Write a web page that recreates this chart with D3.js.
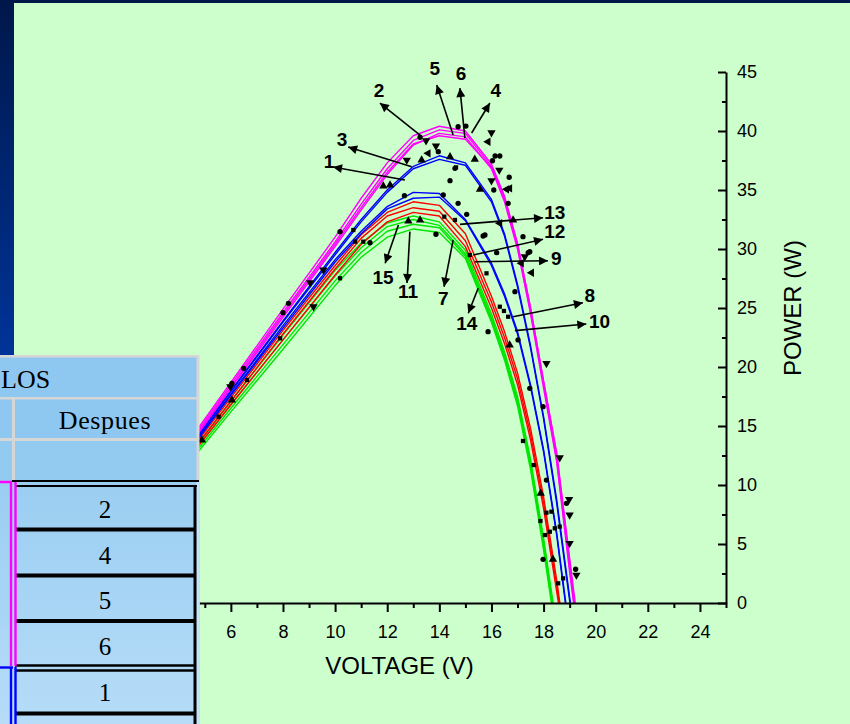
<!DOCTYPE html>
<html><head><meta charset="utf-8">
<script src="https://cdn.jsdelivr.net/npm/d3@7"></script>
<style>html,body{margin:0;padding:0;overflow:hidden;background:#CCFFCC}</style>
</head><body><svg id="c" width="850" height="724"></svg>
<script>
// ---------- DATA ----------
const voltage = [0,2,4,6,8,10,11,12,13,14,15,16,16.5,17,17.5,18,18.5,19,19.5];
const seriesLabels = ["2","5","4","6","3","1","8","10","13","12","9","7","15","14","11"];
const seriesGroup  = ["m","m","m","m","b","b","b","b","r","r","r","g","g","g","g"];
const powerM1 = [0,6.24,12.5,18.7,24.9,31.0,34.3,37.3,39.6,40.4,40.0,37.2,34.5,30.5,25.0,18.8,12.6,3.5,-6];
const powerM2 = [0,6.15,12.3,18.5,24.6,30.6,33.8,36.8,39.2,40.1,39.8,37.0,34.2,30.2,24.7,18.5,12.2,3.0,-6];
const powerM3 = [0,6.1,12.1,18.2,24.2,30.2,33.3,36.3,38.8,39.8,39.5,36.8,34.0,30.0,24.5,18.2,12.0,2.6,-6];
const powerM4 = [0,6.1,12.2,18.3,24.4,30.4,33.5,36.5,38.9,39.6,39.3,36.9,34.3,30.4,25.0,18.8,12.8,3.8,-5];
const powerB1 = [0,6.0,12.0,18.0,23.9,29.7,32.5,35.0,37.0,37.9,37.3,34.2,31.3,27.0,21.8,15.8,8.8,0.5,-8];
const powerB2 = [0,5.95,11.9,17.9,23.8,29.5,32.3,34.8,36.8,37.6,37.1,34.0,31.1,26.8,21.6,15.6,8.5,0.2,-8];
const powerB3 = [0,5.9,11.8,17.7,23.5,29.1,31.5,33.6,34.8,34.7,32.5,28.8,26.2,23.0,18.5,13.0,6.0,-2.5];
const powerB4 = [0,5.85,11.7,17.6,23.3,28.9,31.3,33.4,34.3,34.4,32.4,28.6,26.0,22.8,18.3,12.8,5.8,-2.8];
const powerR1 = [0,5.8,11.6,17.4,23.1,28.6,31.2,33.1,34.0,33.7,31.3,26.0,23.0,19.5,14.8,9.0,2.0,-6];
const powerR2 = [0,5.7,11.4,17.1,22.8,28.3,30.9,32.8,33.5,33.2,30.7,25.5,22.5,19.0,14.3,8.5,1.5,-6];
const powerR3 = [0,5.6,11.2,16.8,22.3,27.8,30.4,32.3,33.1,32.8,30.2,25.0,22.0,18.5,13.8,8.0,1.0,-6];
const powerG1 = [0,5.7,11.4,17.1,22.7,28.2,30.5,32.2,32.8,32.3,29.9,24.5,21.3,17.5,12.2,5.5,-2];
const powerG2 = [0,5.6,11.2,16.8,22.3,27.7,30.1,31.9,32.5,32.0,29.6,24.2,21.0,17.2,11.9,5.2,-2.3];
const powerG3 = [0,5.5,11.0,16.5,21.9,27.3,29.7,31.5,32.1,31.8,29.4,24.0,20.8,17.0,11.6,4.8,-2.6];
const powerG4 = [0,5.4,10.8,16.2,21.5,26.9,29.3,31.0,31.7,31.4,29.2,23.8,20.6,16.7,11.3,4.5,-3];
const allPower = [powerM1,powerM2,powerM3,powerM4,powerB1,powerB2,powerB3,powerB4,powerR1,powerR2,powerR3,powerG1,powerG2,powerG3,powerG4];

// measured points [V, P]
const circlePts = [[13.26,39.47],[14.72,40.36],[15.02,40.42],[13.96,38.25],[16.14,37.88],[16.04,37.48],[16.68,36.08],[16.09,35.0],[14.41,35.79],[12.66,34.52],[14.15,34.58],[15.68,31.1],[14.6,36.84],[14.72,33.87],[15.05,32.94],[16.32,37.88],[16.64,33.87],[17.21,31.04],[17.47,29.77],[10.19,31.47],[11.34,30.53],[13.87,31.25],[17.41,29.69],[16.9,26.38],[15.75,31.19],[16.2,29.69],[15.87,22.99],[17.02,22.29],[17.47,18.19],[17.98,16.64],[18.11,10.42],[18.88,8.45],[17.98,3.7],[19.23,2.86],[8.21,25.4],[8.0,24.6],[6.49,19.89],[6.04,18.62]];
const triDownPts = [[13.49,39.18],[16.0,39.86],[13.87,38.73],[12.75,37.54],[16.3,36.69],[18.11,20.31],[18.98,8.79],[19.26,2.37],[18.62,12.31],[9.04,27.14],[9.55,28.22],[9.17,25.11],[5.98,18.33],[16.0,35.79],[17.28,29.35],[19.0,7.46],[19.0,5.06]];
const triUpPts = [[14.41,37.82],[15.36,37.6],[15.56,35.06],[16.83,32.46],[13.32,37.54],[11.85,35.34],[12.11,35.42],[13.26,32.46],[12.81,32.37],[16.7,21.86],[17.89,9.3],[18.36,3.7],[4.89,13.81],[6.04,17.2]];
const triLeftPts = [[15.87,39.09],[13.57,38.11],[16.58,35.06],[17.54,27.99],[16.7,35.14],[16.32,32.18],[17.15,28.79]];
const squarePts = [[14.64,36.92],[14.19,32.74],[14.6,32.46],[10.19,27.52],[15.17,29.49],[15.81,27.94],[16.32,25.11],[16.64,24.26],[16.48,24.75],[17.21,13.73],[17.62,11.69],[18.3,7.74],[18.11,7.65],[18.24,6.04],[18.62,6.47],[18.43,6.33],[18.05,5.76],[18.56,1.67],[18.75,2.09],[17.88,6.95],[10.7,31.61],[10.77,30.62],[11.08,30.62],[7.89,22.43],[6.62,18.9],[5.53,15.79]];

// annotations: label, label pos [V,P], arrow tail [V,P], arrow head [V,P]
const annText = ["5","6","4","2","3","1","13","12","9","8","10","7","14","15","11"];
const annLabelPos = [[13.83,45.34],[14.83,44.9],[16.17,43.47],[11.69,43.47],[10.27,39.32],[9.77,37.46],[18.43,33.16],[18.43,31.47],[18.49,29.21],[19.77,26.1],[20.15,23.9],[14.15,25.82],[15.05,23.7],[11.84,27.63],[12.8,26.44]];
const annTail = [[14.53,39.66],[14.98,39.4],[15.24,39.83],[13.26,39.66],[12.94,36.97],[12.68,35.85],[14.79,32.09],[15.3,29.49],[15.36,28.92],[16.83,24.26],[16.9,23.08],[14.53,30.76],[15.49,26.67],[12.43,32.03],[12.87,31.47]];
const annHead = [[13.9,43.9],[14.79,43.64],[15.94,42.37],[11.72,42.37],[10.5,38.64],[9.92,36.95],[17.98,32.65],[17.98,30.82],[18.17,29.0],[19.51,25.45],[19.64,23.64],[14.18,26.8],[15.11,24.55],[11.92,28.79],[12.76,27.12]];

const xTicks = [0,2,4,6,8,10,12,14,16,18,20,22,24];
const xMinor = [1,3,5,7,9,11,13,15,17,19,21,23,25];
const yTicks = [0,5,10,15,20,25,30,35,40,45];
const yMinor = [2.5,7.5,12.5,17.5,22.5,27.5,32.5,37.5,42.5];
const tableHeader = "LOS";
const tableSub = "Despues";
const tableRows = ["2","4","5","6","1"];

// ---------- DRAW ----------
const svg = d3.select("#c");
const groupColor = {m:"#FF00FF", b:"#0000FF", r:"#FF0000", g:"#00E600"};
const defs = svg.append("defs");
const bg = defs.append("linearGradient").attr("id","bgGrad").attr("x1",0).attr("y1",0).attr("x2",0).attr("y2",1);
bg.append("stop").attr("offset","0%").attr("stop-color","#00174A");
bg.append("stop").attr("offset","50%").attr("stop-color","#00349A");
bg.append("stop").attr("offset","100%").attr("stop-color","#0038A8");
const tg = defs.append("linearGradient").attr("id","tblGrad").attr("x1",0).attr("y1",0).attr("x2",0).attr("y2",1);
tg.append("stop").attr("offset","0%").attr("stop-color","#9ACEF2");
tg.append("stop").attr("offset","100%").attr("stop-color","#B6DCF7");
defs.append("clipPath").attr("id","plotClip").append("rect").attr("x",0).attr("y",0).attr("width",726).attr("height",603);
defs.append("marker").attr("id","arr").attr("viewBox","0 0 10 10").attr("refX",10).attr("refY",5)
  .attr("markerUnits","userSpaceOnUse").attr("markerWidth",14).attr("markerHeight",9).attr("orient","auto")
  .append("path").attr("d","M0,0 L10,5 L0,10 z").attr("fill","#000");

svg.append("rect").attr("x",0).attr("y",0).attr("width",850).attr("height",724).attr("fill","url(#bgGrad)");
svg.append("rect").attr("x",14).attr("y",3).attr("width",836).attr("height",721).attr("fill","#CCFFCC");

const x = d3.scaleLinear().domain([0,25]).range([74.5,726]);
const y = d3.scaleLinear().domain([0,45]).range([603,72]);

// curves
const line = d3.line().x(d=>x(d[0])).y(d=>y(d[1]));
const curves = svg.append("g").attr("clip-path","url(#plotClip)");
const order = [11,12,13,14,8,9,10,6,7,4,5,0,1,2,3];
order.forEach(i=>{
  const pts = allPower[i].map((p,k)=>[voltage[k],p]);
  curves.append("path").attr("d",line(pts)).attr("fill","none")
    .attr("stroke",groupColor[seriesGroup[i]]).attr("stroke-width",1.4).attr("stroke-linejoin","round");
});

// markers
const mk = svg.append("g").attr("fill","#000");
function drawSym(pts, type, size, rot){
  mk.selectAll(null).data(pts).enter().append("path")
    .attr("d", d3.symbol().type(type).size(size))
    .attr("transform", d=>`translate(${x(d[0])},${y(d[1])}) rotate(${rot})`);
}
drawSym(circlePts, d3.symbolCircle, 22, 0);
drawSym(triDownPts, d3.symbolTriangle, 30, 180);
drawSym(triUpPts, d3.symbolTriangle, 30, 0);
drawSym(triLeftPts, d3.symbolTriangle, 30, -90);
drawSym(squarePts, d3.symbolSquare, 18, 0);

// axes
svg.append("g").attr("transform","translate(0,603)")
  .call(d3.axisBottom(x).tickValues(xTicks).tickSize(9).tickSizeOuter(0).tickPadding(13).tickFormat(d3.format("d")));
svg.append("g").attr("transform","translate(0,603)")
  .call(d3.axisBottom(x).tickValues(xMinor).tickSize(5).tickFormat("")).select(".domain").remove();
svg.append("g").attr("transform","translate(726,0)")
  .call(d3.axisRight(y).tickValues(yTicks).tickSize(-8).tickSizeOuter(0).tickPadding(11));
svg.append("g").attr("transform","translate(726,0)")
  .call(d3.axisRight(y).tickValues(yMinor).tickSize(-4).tickFormat("")).select(".domain").remove();
svg.selectAll(".domain").attr("stroke","#000").attr("stroke-width",2);
svg.selectAll(".tick line").attr("stroke","#000").attr("stroke-width",2);
svg.selectAll(".tick text").attr("fill","#000").style("font-family","'Liberation Sans',Arial,sans-serif").style("font-size","18px");

svg.append("text").attr("x",399.5).attr("y",674).attr("text-anchor","middle")
  .style("font-family","'Liberation Sans',Arial,sans-serif").style("font-size","24px").attr("fill","#000").text("VOLTAGE (V)");
svg.append("text").attr("transform","translate(801,308) rotate(-90)").attr("text-anchor","middle")
  .style("font-family","'Liberation Sans',Arial,sans-serif").style("font-size","24px").attr("fill","#000").text("POWER (W)");

// annotations
const ann = svg.append("g");
annText.forEach((t,i)=>{
  ann.append("line").attr("x1",x(annTail[i][0])).attr("y1",y(annTail[i][1]))
    .attr("x2",x(annHead[i][0])).attr("y2",y(annHead[i][1]))
    .attr("stroke","#000").attr("stroke-width",1.6).attr("marker-end","url(#arr)");
  ann.append("text").attr("x",x(annLabelPos[i][0])).attr("y",y(annLabelPos[i][1]))
    .attr("text-anchor","middle").attr("dy","0.36em")
    .style("font-family","'Liberation Sans',Arial,sans-serif").style("font-weight","bold").style("font-size","19px")
    .attr("fill","#000").text(t);
});

// ---------- TABLE (overlay) ----------
const tb = svg.append("g");
const serif = "'Liberation Serif','Times New Roman',serif";
tb.append("rect").attr("x",0).attr("y",355).attr("width",199.5).attr("height",369).attr("fill","#D6D6D6");
tb.append("rect").attr("x",0).attr("y",357.5).attr("width",196.5).attr("height",39.5).attr("fill","#8EC8F0");
tb.append("rect").attr("x",0).attr("y",399.5).attr("width",12).attr("height",38.5).attr("fill","#8EC8F0");
tb.append("rect").attr("x",15).attr("y",399.5).attr("width",181.5).attr("height",38.5).attr("fill","#8EC8F0");
tb.append("rect").attr("x",0).attr("y",441).attr("width",12).attr("height",39).attr("fill","#92CAF0");
tb.append("rect").attr("x",15).attr("y",441).attr("width",181.5).attr("height",39).attr("fill","#92CAF0");
tb.append("rect").attr("x",0).attr("y",480).attr("width",199.5).attr("height",244).attr("fill","url(#tblGrad)");
tb.append("rect").attr("x",196.5).attr("y",480).attr("width",3).attr("height",244).attr("fill","#C6E3F8");
// black grid
tb.append("line").attr("x1",12).attr("x2",199).attr("y1",481).attr("y2",481).attr("stroke","#000").attr("stroke-width",2.2);
tb.append("line").attr("x1",15).attr("x2",197).attr("y1",486).attr("y2",486).attr("stroke","#000").attr("stroke-width",2.2);
[529.5,575.5,621].forEach(v=>tb.append("line").attr("x1",16).attr("x2",196).attr("y1",v).attr("y2",v).attr("stroke","#000").attr("stroke-width",4));
[665.5,670.5].forEach(v=>tb.append("line").attr("x1",15).attr("x2",196).attr("y1",v).attr("y2",v).attr("stroke","#000").attr("stroke-width",2.4));
tb.append("line").attr("x1",16).attr("x2",196).attr("y1",713.5).attr("y2",713.5).attr("stroke","#000").attr("stroke-width",4);
tb.append("line").attr("x1",195).attr("x2",195).attr("y1",485).attr("y2",724).attr("stroke","#000").attr("stroke-width",3);
// group colour borders
tb.append("line").attr("x1",0).attr("x2",12).attr("y1",482).attr("y2",482).attr("stroke","#FF00FF").attr("stroke-width",2.5);
[11,15.5].forEach(v=>tb.append("line").attr("x1",v).attr("x2",v).attr("y1",482).attr("y2",666).attr("stroke","#FF00FF").attr("stroke-width",2.4));
tb.append("line").attr("x1",0).attr("x2",13).attr("y1",667.5).attr("y2",667.5).attr("stroke","#0000FF").attr("stroke-width",2.4);
[11,15.5].forEach(v=>tb.append("line").attr("x1",v).attr("x2",v).attr("y1",667).attr("y2",724).attr("stroke","#0000FF").attr("stroke-width",2.4));
// text
tb.append("text").attr("x",1).attr("y",379).attr("dy","0.35em").attr("text-anchor","start")
  .style("font-family",serif).style("font-size","26px").attr("fill","#000").text(tableHeader);
tb.append("text").attr("x",105).attr("y",420).attr("dy","0.35em").attr("text-anchor","middle")
  .style("font-family",serif).style("font-size","26px").style("letter-spacing","0.6px").attr("fill","#000").text(tableSub);
const rowY = [509,555,600,646,692];
tableRows.forEach((t,i)=>tb.append("text").attr("x",105).attr("y",rowY[i]).attr("dy","0.35em").attr("text-anchor","middle")
  .style("font-family",serif).style("font-size","25px").attr("fill","#000").text(t));
</script></body></html>
